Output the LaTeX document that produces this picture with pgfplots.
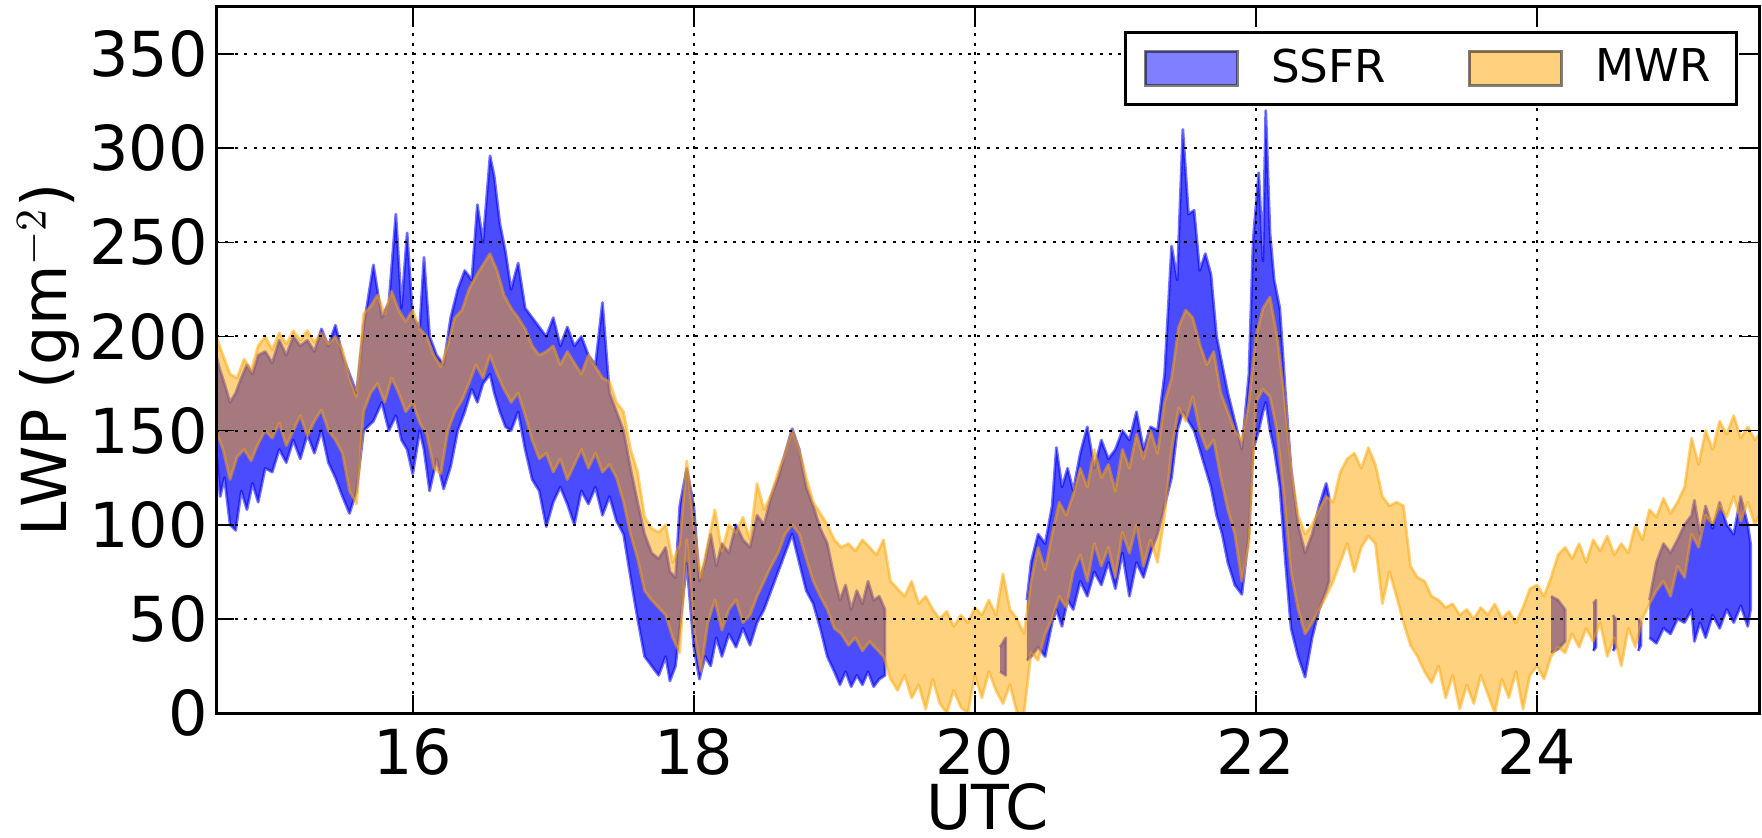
\documentclass[border=0pt]{standalone}
\usepackage{fontspec}
\setmainfont{DejaVu Sans}
\usepackage{pgfplots}
\pgfplotsset{compat=1.18}
\usetikzlibrary{calc}
\definecolor{mblue}{RGB}{0,0,255}
\definecolor{morange}{RGB}{255,165,0}
\tikzset{
  ssfr/.style={fill=mblue, fill opacity=0.7, draw=mblue, draw opacity=0.55, line width=0.7pt, line join=round},
  mwr/.style={fill=morange, fill opacity=0.5, draw=morange, draw opacity=0.5, line width=0.7pt, line join=round},
}
\begin{document}
\begin{tikzpicture}
\begin{axis}[
  name=ax,
  scale only axis,
  width=385.75pt, height=176.5pt,
  xmin=14.6, xmax=25.58, ymin=0, ymax=375,
  xtick={16,18,20,22,24}, ytick={0,50,...,350},
  tick align=inside,
  major tick length=4.5pt,
  tick style={black, line width=0.4pt},
  axis line style={line width=0.75pt},
  grid=major,
  major grid style={black, line width=0.5pt, dash pattern=on 0.75pt off 1.6pt},
  axis on top,
  /pgf/number format/assume math mode=true,
  ticklabel style={font=\fontsize{15.5}{18}\selectfont},
  xticklabel style={inner sep=0pt, yshift=-3.75pt},
  yticklabel style={inner sep=0pt, xshift=-1.9pt},
  xlabel={UTC},
  xlabel style={at={(axis description cs:0.5,0)}, anchor=north, inner sep=0pt, yshift=-17.5pt, font=\fontsize{15.5}{18}\selectfont},
  ylabel={LWP (gm$^{-2}$)},
  ylabel style={at={(axis description cs:-0.088,0.5)}, anchor=south, inner sep=0pt, font=\fontsize{15.5}{18}\selectfont},
  legend columns=2,
  legend style={at={(axis description cs:1,1)}, anchor=north east, xshift=-5.25pt, yshift=-6pt,
    draw=black, line width=0.75pt, font=\fontsize{11.3}{13}\selectfont,
    inner xsep=4.5pt, inner ysep=2pt,
    /tikz/every even column/.append style={column sep=18.5pt}},
  legend cell align=left,
]
% SSFR (blue) bands: upper edge forward, lower edge backward
\addplot[ssfr, forget plot] coordinates {
(14.60,190)(14.63,182)(14.66,175)(14.70,165)(14.74,170)(14.78,178)(14.82,185)(14.86,180)(14.90,190)(14.95,192)(15.00,186)(15.05,198)(15.10,190)(15.15,200)(15.20,195)(15.25,198)(15.30,192)(15.35,204)(15.40,195)(15.45,206)(15.50,190)(15.55,180)(15.60,170)(15.65,205)(15.72,238)(15.78,210)(15.83,218)(15.88,265)(15.92,215)(15.96,255)(16.00,210)(16.05,205)(16.08,242)(16.12,200)(16.17,190)(16.22,185)(16.27,210)(16.32,225)(16.37,235)(16.42,230)(16.46,270)(16.50,250)(16.55,296)(16.58,285)(16.62,260)(16.66,245)(16.70,225)(16.75,239)(16.80,215)(16.85,210)(16.90,205)(16.95,200)(17.00,210)(17.05,195)(17.10,205)(17.15,195)(17.20,200)(17.25,190)(17.30,185)(17.35,218)(17.40,170)(17.45,160)(17.50,150)(17.55,130)(17.60,112)(17.65,95)(17.70,85)(17.75,82)(17.80,88)(17.83,75)(17.87,72)(17.90,110)(17.95,130)(18.00,110)(18.04,70)(18.08,80)(18.12,95)(18.16,78)(18.20,90)(18.25,85)(18.30,100)(18.35,92)(18.40,88)(18.45,105)(18.50,100)(18.55,115)(18.60,125)(18.65,138)(18.70,151)(18.75,140)(18.80,120)(18.85,110)(18.90,98)(18.95,90)(19.00,72)(19.04,60)(19.08,68)(19.12,55)(19.16,65)(19.20,58)(19.24,70)(19.28,60)(19.32,62)(19.36,55)
(19.36,20)(19.32,18)(19.28,14)(19.24,22)(19.20,15)(19.16,20)(19.12,14)(19.08,22)(19.04,15)(19.00,22)(18.95,30)(18.90,45)(18.85,58)(18.80,65)(18.75,80)(18.70,95)(18.65,85)(18.60,75)(18.55,65)(18.50,55)(18.45,48)(18.40,36)(18.35,45)(18.30,35)(18.25,42)(18.20,30)(18.16,40)(18.12,25)(18.08,30)(18.04,18)(18.00,35)(17.95,80)(17.90,45)(17.87,25)(17.83,17)(17.80,30)(17.75,20)(17.70,25)(17.65,30)(17.60,50)(17.55,72)(17.50,95)(17.45,102)(17.40,115)(17.35,105)(17.30,120)(17.25,111)(17.20,118)(17.15,100)(17.10,111)(17.05,120)(17.00,112)(16.95,99)(16.90,118)(16.85,124)(16.80,140)(16.75,160)(16.70,150)(16.66,152)(16.62,160)(16.58,170)(16.55,180)(16.50,175)(16.46,165)(16.42,172)(16.37,160)(16.32,150)(16.27,131)(16.22,119)(16.17,135)(16.12,118)(16.08,140)(16.05,150)(16.00,127)(15.96,140)(15.92,145)(15.88,158)(15.83,150)(15.78,165)(15.72,155)(15.65,150)(15.60,118)(15.55,106)(15.50,115)(15.45,125)(15.40,133)(15.35,150)(15.30,138)(15.25,148)(15.20,135)(15.15,145)(15.10,133)(15.05,140)(15.00,128)(14.95,130)(14.90,112)(14.86,122)(14.82,108)(14.78,118)(14.74,97)(14.70,100)(14.66,125)(14.63,115)(14.60,140)
};
\addplot[ssfr, forget plot] coordinates {(20.18,35)(20.22,40)(20.22,20)(20.18,22)};
\addplot[ssfr, forget plot] coordinates {
(20.37,60)(20.40,80)(20.45,95)(20.50,90)(20.55,110)(20.58,141)(20.62,120)(20.66,130)(20.70,118)(20.75,138)(20.80,152)(20.85,130)(20.90,145)(20.95,135)(21.00,140)(21.05,150)(21.10,145)(21.15,160)(21.20,140)(21.25,152)(21.30,150)(21.35,180)(21.40,248)(21.44,230)(21.48,310)(21.52,265)(21.56,267)(21.60,235)(21.64,244)(21.68,233)(21.72,200)(21.76,185)(21.80,170)(21.85,155)(21.90,140)(21.95,180)(21.98,251)(22.02,287)(22.05,240)(22.07,320)(22.10,255)(22.13,230)(22.17,215)(22.21,170)(22.25,130)(22.30,100)(22.35,85)(22.40,95)(22.45,110)(22.50,122)(22.52,115)
(22.52,70)(22.50,65)(22.45,55)(22.40,40)(22.35,19)(22.30,30)(22.25,45)(22.21,80)(22.17,120)(22.13,140)(22.10,150)(22.07,165)(22.05,160)(22.02,150)(21.98,140)(21.95,95)(21.90,63)(21.85,68)(21.80,80)(21.76,95)(21.72,105)(21.68,120)(21.64,130)(21.60,140)(21.56,150)(21.52,155)(21.48,160)(21.44,150)(21.40,125)(21.35,110)(21.30,95)(21.25,85)(21.20,72)(21.15,80)(21.10,62)(21.05,85)(21.00,66)(20.95,80)(20.90,68)(20.85,75)(20.80,62)(20.75,70)(20.70,55)(20.66,60)(20.62,46)(20.58,55)(20.55,48)(20.50,30)(20.45,35)(20.40,30)(20.37,28)
};
\addplot[ssfr, forget plot] coordinates {(24.10,62)(24.15,60)(24.20,55)(24.20,38)(24.15,34)(24.10,32)};
\addplot[ssfr, forget plot] coordinates {(24.40,58)(24.42,60)(24.42,35)(24.40,33)};
\addplot[ssfr, forget plot] coordinates {(24.54,52)(24.56,50)(24.56,35)(24.54,33)};
\addplot[ssfr, forget plot] coordinates {(24.72,50)(24.74,48)(24.74,36)(24.72,33)};
\addplot[ssfr, forget plot] coordinates {
(24.80,60)(24.85,80)(24.90,90)(24.95,85)(25.00,92)(25.05,100)(25.10,105)(25.12,113)(25.16,95)(25.20,110)(25.25,98)(25.30,112)(25.35,100)(25.40,95)(25.45,115)(25.50,100)(25.52,90)
(25.52,55)(25.50,46)(25.45,57)(25.40,48)(25.35,55)(25.30,45)(25.25,52)(25.20,40)(25.16,48)(25.12,38)(25.10,55)(25.05,48)(25.00,50)(24.95,42)(24.90,45)(24.85,37)(24.80,40)
};
% MWR (orange) band
\addplot[mwr, forget plot] coordinates {
(14.60,200)(14.65,190)(14.70,180)(14.75,178)(14.80,188)(14.85,182)(14.90,195)(14.95,200)(15.00,193)(15.05,202)(15.10,196)(15.15,203)(15.20,198)(15.25,203)(15.30,197)(15.35,202)(15.40,196)(15.45,200)(15.50,193)(15.55,178)(15.60,168)(15.65,212)(15.70,216)(15.75,222)(15.80,212)(15.85,224)(15.90,214)(15.95,208)(16.00,214)(16.05,204)(16.10,200)(16.15,190)(16.20,184)(16.25,196)(16.30,210)(16.35,214)(16.40,225)(16.45,232)(16.50,238)(16.55,244)(16.60,235)(16.65,222)(16.70,215)(16.75,210)(16.80,204)(16.85,195)(16.90,190)(16.95,192)(17.00,195)(17.05,185)(17.10,192)(17.15,186)(17.20,180)(17.25,190)(17.30,184)(17.35,178)(17.40,176)(17.45,165)(17.50,160)(17.55,140)(17.60,128)(17.65,104)(17.70,98)(17.75,96)(17.80,100)(17.85,80)(17.90,90)(17.95,134)(18.00,100)(18.05,72)(18.10,90)(18.15,108)(18.20,86)(18.25,100)(18.30,96)(18.35,104)(18.40,92)(18.45,122)(18.50,108)(18.55,116)(18.60,128)(18.65,138)(18.70,150)(18.75,140)(18.80,125)(18.85,112)(18.90,106)(18.95,100)(19.00,92)(19.05,88)(19.10,90)(19.15,86)(19.20,92)(19.25,88)(19.30,84)(19.35,92)(19.40,70)(19.45,66)(19.50,62)(19.55,70)(19.60,58)(19.65,62)(19.70,55)(19.75,50)(19.80,54)(19.85,46)(19.90,52)(19.95,48)(20.00,56)(20.05,52)(20.10,60)(20.15,52)(20.20,74)(20.25,55)(20.30,50)(20.35,42)(20.40,70)(20.45,88)(20.50,76)(20.55,95)(20.60,112)(20.65,105)(20.70,116)(20.75,130)(20.80,120)(20.85,140)(20.90,125)(20.95,132)(21.00,118)(21.05,140)(21.10,130)(21.15,148)(21.20,135)(21.25,150)(21.30,138)(21.35,165)(21.40,178)(21.45,205)(21.50,214)(21.55,210)(21.60,196)(21.65,185)(21.70,192)(21.75,170)(21.80,160)(21.85,150)(21.90,145)(21.95,165)(22.00,200)(22.05,215)(22.10,221)(22.15,200)(22.20,170)(22.25,130)(22.30,105)(22.35,95)(22.40,100)(22.45,108)(22.50,115)(22.55,112)(22.60,128)(22.65,135)(22.70,138)(22.75,130)(22.80,141)(22.85,132)(22.90,115)(22.95,110)(23.00,112)(23.05,110)(23.10,78)(23.15,72)(23.20,70)(23.25,62)(23.30,60)(23.35,56)(23.40,58)(23.45,52)(23.50,55)(23.55,50)(23.60,56)(23.65,52)(23.70,58)(23.75,50)(23.80,54)(23.85,48)(23.90,56)(23.95,66)(24.00,68)(24.05,62)(24.10,72)(24.15,84)(24.20,88)(24.25,82)(24.30,90)(24.35,80)(24.40,92)(24.45,86)(24.50,94)(24.55,84)(24.60,90)(24.65,85)(24.70,100)(24.75,92)(24.80,108)(24.85,104)(24.90,114)(24.95,106)(25.00,112)(25.05,120)(25.10,146)(25.15,132)(25.20,150)(25.25,140)(25.30,155)(25.35,148)(25.40,158)(25.45,146)(25.50,152)(25.55,145)(25.60,150)
(25.60,108)(25.55,100)(25.50,112)(25.45,102)(25.40,115)(25.35,104)(25.30,110)(25.25,100)(25.20,105)(25.15,88)(25.10,95)(25.05,72)(25.00,78)(24.95,62)(24.90,70)(24.85,65)(24.80,58)(24.75,50)(24.70,35)(24.65,45)(24.60,25)(24.55,40)(24.50,30)(24.45,48)(24.40,38)(24.35,45)(24.30,35)(24.25,42)(24.20,32)(24.15,35)(24.10,30)(24.05,18)(24.00,25)(23.95,20)(23.90,2)(23.85,22)(23.80,8)(23.75,18)(23.70,0)(23.65,10)(23.60,20)(23.55,5)(23.50,15)(23.45,2)(23.40,20)(23.35,8)(23.30,25)(23.25,16)(23.20,22)(23.15,30)(23.10,36)(23.05,48)(23.00,62)(22.95,75)(22.90,58)(22.85,90)(22.80,94)(22.75,88)(22.70,75)(22.65,90)(22.60,80)(22.55,70)(22.50,62)(22.45,55)(22.40,48)(22.35,42)(22.30,55)(22.25,75)(22.20,115)(22.15,150)(22.10,168)(22.05,172)(22.00,165)(21.95,90)(21.90,70)(21.85,95)(21.80,108)(21.75,125)(21.70,145)(21.65,140)(21.60,150)(21.55,168)(21.50,155)(21.45,162)(21.40,140)(21.35,105)(21.30,80)(21.25,92)(21.20,78)(21.15,100)(21.10,85)(21.05,96)(21.00,72)(20.95,88)(20.90,78)(20.85,90)(20.80,70)(20.75,84)(20.70,75)(20.65,56)(20.60,62)(20.55,50)(20.50,42)(20.45,28)(20.40,32)(20.35,0)(20.30,0)(20.25,15)(20.20,5)(20.15,12)(20.10,22)(20.05,8)(20.00,20)(19.95,0)(19.90,3)(19.85,12)(19.80,0)(19.75,5)(19.70,18)(19.65,2)(19.60,15)(19.55,8)(19.50,20)(19.45,12)(19.40,18)(19.35,30)(19.30,34)(19.25,38)(19.20,33)(19.15,40)(19.10,36)(19.05,42)(19.00,45)(18.95,55)(18.90,62)(18.85,70)(18.80,82)(18.75,95)(18.70,100)(18.65,95)(18.60,85)(18.55,78)(18.50,70)(18.45,62)(18.40,52)(18.35,48)(18.30,60)(18.25,55)(18.20,44)(18.15,60)(18.10,48)(18.05,22)(18.00,45)(17.95,92)(17.90,32)(17.85,40)(17.80,52)(17.75,56)(17.70,60)(17.65,65)(17.60,82)(17.55,95)(17.50,112)(17.45,125)(17.40,132)(17.35,128)(17.30,138)(17.25,130)(17.20,140)(17.15,132)(17.10,124)(17.05,135)(17.00,128)(16.95,138)(16.90,135)(16.85,145)(16.80,158)(16.75,170)(16.70,165)(16.65,172)(16.60,180)(16.55,190)(16.50,178)(16.45,185)(16.40,175)(16.35,166)(16.30,160)(16.25,150)(16.20,127)(16.15,130)(16.10,148)(16.05,154)(16.00,165)(15.95,160)(15.90,170)(15.85,178)(15.80,165)(15.75,175)(15.70,170)(15.65,160)(15.60,111)(15.55,118)(15.50,138)(15.45,145)(15.40,150)(15.35,161)(15.30,155)(15.25,147)(15.20,158)(15.15,150)(15.10,142)(15.05,154)(15.00,146)(14.95,150)(14.90,143)(14.85,134)(14.80,140)(14.75,136)(14.70,124)(14.65,140)(14.60,150)
};
\addlegendimage{legend image code/.code={\draw[fill=mblue, fill opacity=0.5, draw=black, draw opacity=0.5, line width=0.75pt] (0pt,-4.25pt) rectangle (23pt,4.25pt); \path[draw=none, fill=none] (23pt,0pt) -- (29.5pt,0pt);}}
\addlegendentry{SSFR}
\addlegendimage{legend image code/.code={\draw[fill=morange, fill opacity=0.5, draw=black, draw opacity=0.5, line width=0.75pt] (0pt,-4.25pt) rectangle (23pt,4.25pt); \path[draw=none, fill=none] (23pt,0pt) -- (29.5pt,0pt);}}
\addlegendentry{MWR}
\end{axis}
\pgfresetboundingbox
\path[use as bounding box] ($(ax.south west)+(-54pt,-31pt)$) rectangle ($(ax.north east)+(0.75pt,1.75pt)$);
\end{tikzpicture}
\end{document}
